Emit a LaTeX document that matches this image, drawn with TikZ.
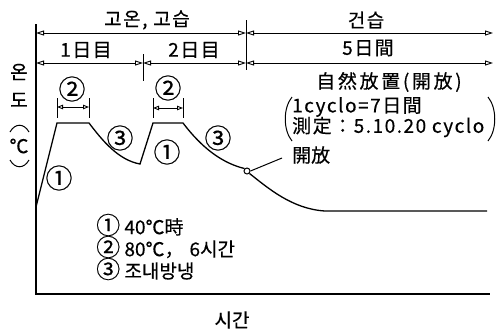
\documentclass[tikz,border=0pt]{standalone}
\usepackage{fontspec}
\setmainfont{Noto Sans CJK KR}[FakeBold=0.4]
\usetikzlibrary{arrows.meta}
\newcommand{\circnum}[1]{{\fontsize{24}{21}\selectfont #1}}
\tikzset{
  axisline/.style={line width=1.6pt},
  curveline/.style={line width=1.3pt},
  dimline/.style={line width=0.9pt, {Triangle[open,length=8pt,width=5pt]}-{Triangle[open,length=8pt,width=5pt]}},
  smalldim/.style={line width=0.9pt, {Triangle[open,length=6pt,width=4.5pt]}-{Triangle[open,length=6pt,width=4.5pt]}},
  tickline/.style={line width=0.9pt},
  parenline/.style={line width=1pt},
  lbl/.style={font=\fontsize{19}{21}\selectfont, inner sep=0pt},
  wide/.style={font=\fontsize{19}{21}\selectfont\addfontfeature{LetterSpace=8}, inner sep=0pt},
  wider/.style={font=\fontsize{19}{21}\selectfont\addfontfeature{LetterSpace=14}, inner sep=0pt},
  num/.style={font=\fontsize{27}{28}\selectfont, inner sep=0pt},
}
\begin{document}
\begin{tikzpicture}[x=1pt,y=-1pt]
\useasboundingbox (0,0) rectangle (498,333);
% axes
\coordinate (ytop) at (36,24);
\coordinate (orig) at (36,294);
\coordinate (xend) at (490,294);
\draw[axisline] (ytop) -- (orig) -- (xend);
% dimension coordinates
\coordinate (a1) at (36,33);
\coordinate (a2) at (246,33);
\coordinate (a3) at (493,33);
\coordinate (b1) at (36,63);
\coordinate (b2) at (143,63);
\coordinate (b3) at (246,63);
\coordinate (b4) at (493,63);
\coordinate (t1) at (246,20);
\coordinate (t2) at (246,70);
\coordinate (t3) at (143,54);
\coordinate (t4) at (143,81);
\draw[tickline] (t1) -- (t2);
\draw[tickline] (t3) -- (t4);
\draw[dimline] (a1) -- (a2);
\draw[dimline] (a2) -- (a3);
\draw[dimline] (b1) -- (b2);
\draw[dimline] (b2) -- (b3);
\draw[dimline] (b3) -- (b4);
\node[wide] (hh) at (147,20) {고온, 고습};
\node[wide] (dw) at (366,20) {건습};
\node[wide] (d1) at (86,50) {1日目};
\node[wide] (d2) at (194,50) {2日目};
\node[wide] (d5) at (368,48) {5日間};
% curve
\coordinate (p0) at (36,207);
\coordinate (p1) at (57,123);
\coordinate (p2) at (89,123);
\coordinate (p3) at (140,164);
\coordinate (p4) at (153,123);
\coordinate (p5) at (183,123);
\coordinate (p7) at (325,211);
\coordinate (p8) at (487,211);
\node[circle, draw, line width=1pt, fill=white, minimum size=6pt, inner sep=0pt] (open) at (247,171) {};
\draw[curveline] (p0) -- (p1) -- (p2) .. controls (102,140) and (118,160) .. (p3) -- (p4) -- (p5)
  .. controls (202,148) and (222,163) .. (open.north west);
\draw[curveline] (open.south east) .. controls (268,188) and (292,209) .. (p7) -- (p8);
% small dims
\coordinate (s1a) at (57,98);  \coordinate (s1b) at (57,118);
\coordinate (s2a) at (89,98);  \coordinate (s2b) at (89,118);
\coordinate (s3a) at (153,98); \coordinate (s3b) at (153,118);
\coordinate (s4a) at (183,98); \coordinate (s4b) at (183,118);
\draw[tickline] (s1a) -- (s1b);
\draw[tickline] (s2a) -- (s2b);
\draw[tickline] (s3a) -- (s3b);
\draw[tickline] (s4a) -- (s4b);
\coordinate (sd1) at (57,107); \coordinate (sd2) at (89,107);
\coordinate (sd3) at (153,108); \coordinate (sd4) at (183,108);
\draw[smalldim] (sd1) -- (sd2);
\draw[smalldim] (sd3) -- (sd4);
% circled labels
\node[num] (c2a) at (72,89) {②};
\node[num] (c2b) at (168,88) {②};
\node[num] (c3a) at (120,138) {③};
\node[num] (c3b) at (218,138) {③};
\node[num] (c1a) at (59,178) {①};
\node[num] (c1b) at (167,152) {①};
% right texts
\node[wider] (nat) at (389,82) {自然放置(開放)};
\node[wide, anchor=west] (cyc) at (292,107) {1cyclo=7日間};
\node[wide, anchor=west] (meas) at (292,127) {測定：5.10.20 cyclo};
\draw[parenline] (292,97) .. controls (283,108) and (283,130) .. (292,141);
\draw[parenline] (488,97) .. controls (497,108) and (497,130) .. (488,141);
\node[lbl, anchor=west] (opn) at (292,155) {開放};
\coordinate (lead) at (282,158);
\draw[line width=1pt] (open.east) -- (lead);
% legend
\node[lbl, anchor=west] (l1) at (96,225) {\circnum{①} 40℃時};
\node[lbl, anchor=west] (l2) at (96,247) {\circnum{②} 80℃，\hspace{6pt}6시간};
\node[lbl, anchor=west] (l3) at (96,269) {\circnum{③} 조내방냉};
% axis labels
\node[lbl] (xl) at (232,320) {시간};
\node[lbl] (y1) at (19,72) {온};
\node[lbl] (y2) at (19,100) {도};
\node[lbl] (y4) at (19,146) {℃};
\draw[parenline] (10,132) .. controls (15,123) and (24,123) .. (29,132);
\draw[parenline] (10,160) .. controls (15,169) and (24,169) .. (29,160);
\end{tikzpicture}
\end{document}
